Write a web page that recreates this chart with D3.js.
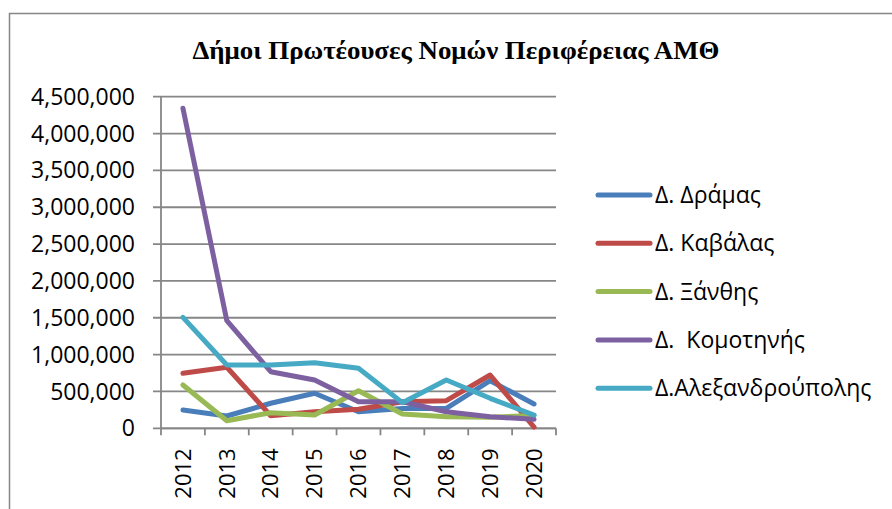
<!DOCTYPE html>
<html>
<head>
<meta charset="utf-8">
<script src="https://cdn.jsdelivr.net/npm/d3@7"></script>
<style>
  body { margin: 0; background: #fff; }
  svg { display: block; }
</style>
</head>
<body>
<div id="chart"></div>
<script>
// years on the x axis
var years = ["2012", "2013", "2014", "2015", "2016", "2017", "2018", "2019", "2020"]

// values per municipality
var drama = [248000, 167000, 340000, 475000, 225000, 270000, 270000, 646000, 330000]
var kavala = [746000, 828000, 170000, 225000, 258000, 360000, 375000, 723000, 15000]
var xanthi = [588000, 103000, 212000, 180000, 510000, 194000, 157000, 150000, 175000]
var komotini = [4343000, 1460000, 768000, 655000, 361000, 360000, 225000, 157000, 122000]
var alexandroupoli = [1506000, 859000, 860000, 890000, 814000, 348000, 655000, 407000, 180000]

var names = ["Δ. Δράμας", "Δ. Καβάλας", "Δ. Ξάνθης", "Δ.  Κομοτηνής", "Δ.Αλεξανδρούπολης"]
var yTicks = [0, 500000, 1000000, 1500000, 2000000, 2500000, 3000000, 3500000, 4000000, 4500000]

var series = [drama, kavala, xanthi, komotini, alexandroupoli]
var colors = ["#4a7ebb", "#be4b48", "#98b954", "#7d60a0", "#46aac5"]

var w = 892
var h = 509

var svg = d3.select("#chart")
            .append("svg")
            .attr("width", w)
            .attr("height", h)

// chart border (runs off the right and bottom edges)
svg.append("rect")
   .attr("x", 9.5)
   .attr("y", 13.5)
   .attr("width", 1000)
   .attr("height", 1000)
   .attr("fill", "none")
   .attr("stroke", "#868686")
   .attr("stroke-width", 1.5)

svg.append("text")
   .text("Δήμοι Πρωτέουσες Νομών Περιφέρειας ΑΜΘ")
   .attr("x", 456)
   .attr("y", 59)
   .attr("text-anchor", "middle")
   .attr("font-family", "Liberation Serif")
   .attr("font-weight", "bold")
   .attr("font-size", "26px")
   .attr("textLength", 527)
   .attr("lengthAdjust", "spacingAndGlyphs")
   .attr("fill", "#000")

var x = d3.scaleBand()
    .domain(years)
    .range([161, 556])

var y = d3.scaleLinear()
    .domain([0, 4500000])
    .range([428.3, 96.7])

// gridlines
svg.append("g")
   .selectAll("line")
   .data(yTicks)
   .enter()
   .append("line")
   .attr("x1", 153)
   .attr("x2", 556)
   .attr("y1", d => y(d))
   .attr("y2", d => y(d))
   .attr("stroke", "#868686")
   .attr("stroke-width", 1.8)

// y axis line + labels
svg.append("line")
   .attr("x1", 161).attr("x2", 161)
   .attr("y1", y(4500000)).attr("y2", 428.3)
   .attr("stroke", "#868686")
   .attr("stroke-width", 1.8)

svg.append("g")
   .selectAll("text")
   .data(yTicks)
   .enter()
   .append("text")
   .text(d => d3.format(",")(d))
   .attr("x", 135)
   .attr("y", d => y(d))
   .attr("dy", "0.35em")
   .attr("text-anchor", "end")
   .attr("font-family", "Open Sans")
   .attr("font-size", "23px")
   .attr("fill", "#000")

// x axis with ticks between categories
var xAxis = svg.append("g")
   .attr("transform", "translate(0," + 428.3 + ")")

xAxis.append("line")
   .attr("x1", 161).attr("x2", 556)
   .attr("stroke", "#868686")
   .attr("stroke-width", 1.8)

xAxis.selectAll("line.tick")
   .data(years.concat(["end"]))
   .enter()
   .append("line")
   .attr("class", "tick")
   .attr("x1", (d, i) => i < years.length ? x(d) : x.range()[1])
   .attr("x2", (d, i) => i < years.length ? x(d) : x.range()[1])
   .attr("y1", 0)
   .attr("y2", 7)
   .attr("stroke", "#868686")
   .attr("stroke-width", 1.8)

xAxis.selectAll("text")
   .data(years)
   .enter()
   .append("text")
   .text(d => d)
   .attr("transform", d => "translate(" + (x(d) + x.bandwidth() / 2) + ",20) rotate(-90)")
   .attr("dy", "0.35em")
   .attr("text-anchor", "end")
   .attr("font-family", "Open Sans")
   .attr("font-size", "22px")
   .attr("fill", "#000")

// lines
var line = d3.line()
    .x((d, i) => x(years[i]) + x.bandwidth() / 2)
    .y(d => y(d))

svg.append("g")
   .selectAll("path")
   .data(series)
   .enter()
   .append("path")
   .attr("d", d => line(d))
   .attr("fill", "none")
   .attr("stroke", (d, i) => colors[i])
   .attr("stroke-width", 5)
   .attr("stroke-linejoin", "round")
   .attr("stroke-linecap", "round")

// legend
var legend = svg.append("g")
   .selectAll("g")
   .data(names)
   .enter()
   .append("g")
   .attr("transform", (d, i) => "translate(0," + (195 + i * 48.3) + ")")

legend.append("line")
   .attr("x1", 598)
   .attr("x2", 650)
   .attr("stroke", (d, i) => colors[i])
   .attr("stroke-width", 5)
   .attr("stroke-linecap", "round")

legend.append("text")
   .text(d => d)
   .attr("x", 655)
   .attr("dy", "0.35em")
   .attr("font-family", "Open Sans")
   .attr("font-size", "23px")
   .attr("fill", "#000")
   .style("white-space", "pre")
</script>
</body>
</html>
